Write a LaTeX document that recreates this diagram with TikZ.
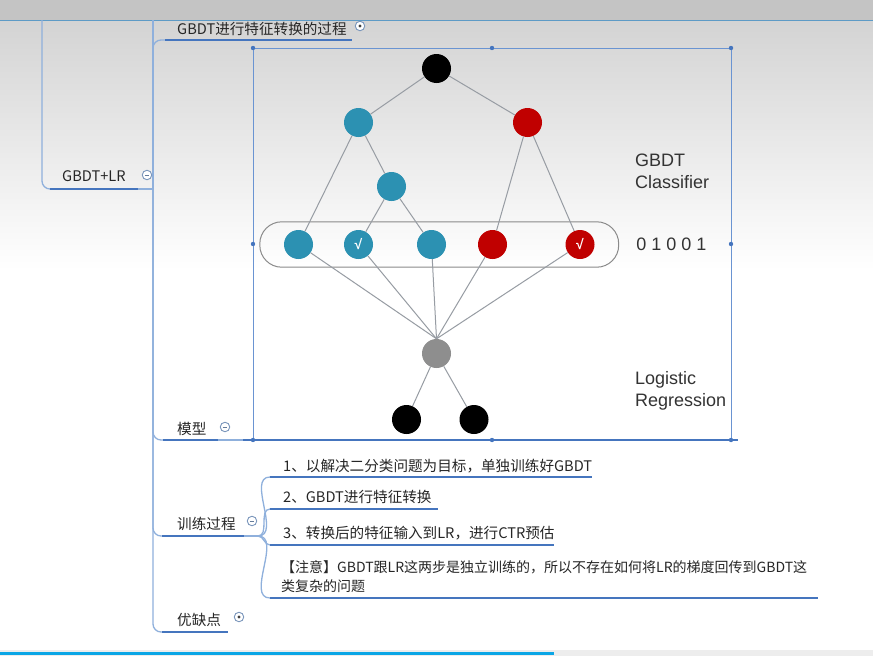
\documentclass[tikz,border=0pt]{standalone}
\usepackage{xcolor}
\usepackage{fontspec}
\setmainfont{Liberation Sans}
\newfontfamily\cjk{Noto Sans CJK SC}
\usepackage{tikz}
\usetikzlibrary{positioning,fit}
\definecolor{mmblue}{HTML}{4575BE}
\definecolor{mmlink}{HTML}{8FB0DC}
\definecolor{boxblue}{HTML}{6A94D2}
\definecolor{leafteal}{HTML}{2C91B2}
\definecolor{leafred}{HTML}{C00000}
\definecolor{lrgray}{HTML}{8E8E8E}
\definecolor{edgegray}{HTML}{979CA3}
\definecolor{capgray}{HTML}{8A8A8A}
\definecolor{topband}{HTML}{C4C4C4}
\definecolor{bandline}{HTML}{5E9BC6}
\definecolor{cyanbar}{HTML}{0BA6E6}
\tikzset{
  mmtext/.style={font=\cjk\fontsize{14.6}{19.5}\selectfont, text=black!85, inner sep=0pt, anchor=west, align=left},
  mmline/.style={draw=mmlink, line width=1.3pt},
  mmunder/.style={draw=mmblue, line width=2.8pt},
  mmfold/.style={circle, draw=mmlink!85!black, line width=0.9pt, fill=white, minimum size=9.5pt, inner sep=0pt},
  foldopen/.style={mmfold, path picture={\draw[mmlink!70!black, line width=0.8pt] ([xshift=-2.3pt]path picture bounding box.center) -- ([xshift=2.3pt]path picture bounding box.center);}},
  folddot/.style={mmfold, path picture={\fill[black!75] (path picture bounding box.center) circle (1.6pt);}},
  treenode/.style={circle, minimum size=29pt, inner sep=0pt, text=white, font=\bfseries\fontsize{14}{14}\selectfont},
  treeedge/.style={draw=edgegray, line width=1pt},
  sidelabel/.style={font=\fontsize{18}{21.7}\selectfont, text=black!80, align=left, anchor=west, inner sep=0pt}
}

\begin{document}
\begin{tikzpicture}[x=1pt, y=-1pt]
  \useasboundingbox (0,0) rectangle (873,656);
  \fill[topband] (0,0) rectangle (873,20);
  \shade[top color=black!17, bottom color=white] (0,21) rectangle (873,270);
  \fill[white] (0,270) rectangle (873,650);
  \fill[black!7] (0,650) rectangle (873,656);
  \draw[cyanbar, line width=3pt] (0,653.5) -- (554,653.5);
  \draw[bandline, line width=1.3pt] (0,20.5) -- (873,20.5);

  \coordinate (lTop) at (42,20);
  \coordinate (uLRa) at (50,189);
  \coordinate (uLRm) at (138,189);
  \coordinate (uLRb) at (153,189);
  \coordinate (sTop) at (153,20);
  \coordinate (uTa) at (165,40);
  \coordinate (uTb) at (352,40);
  \coordinate (uMa) at (163,440);
  \coordinate (uMm) at (218,440);
  \coordinate (uMb) at (243,440);
  \coordinate (uXa) at (162,536);
  \coordinate (uXb) at (244,536);
  \coordinate (fk) at (258,536);
  \coordinate (uYa) at (162,632);
  \coordinate (uYb) at (228,632);
  \coordinate (c1a) at (270,477);
  \coordinate (c1b) at (592,477);
  \coordinate (c2a) at (270,509);
  \coordinate (c2b) at (438,509);
  \coordinate (c3a) at (270,545);
  \coordinate (c3b) at (554,545);
  \coordinate (c4a) at (270,598);
  \coordinate (c4b) at (818,598);

  \draw[mmline, rounded corners=8pt] (lTop) |- (uLRa);
  \draw[mmline] (uLRm) -- (uLRb) -- (sTop);
  \foreach \u in {uTa,uMa,uXa,uYa}
    \draw[mmline, rounded corners=8pt] (uLRb) |- (\u);
  \draw[mmline] (uMm) -- (uMb);
  \draw[mmline] (uXb) -- (fk);
  \foreach \c in {c1a,c2a,c3a,c4a}
    \draw[mmline] (fk) to[out=0,in=180] (\c);

  \draw[mmunder] (uLRa) -- (uLRm);
  \draw[mmunder] (uTa) -- (uTb);
  \draw[mmunder] (uMa) -- (uMm);
  \draw[mmunder] (uXa) -- (uXb);
  \draw[mmunder] (uYa) -- (uYb);
  \draw[mmunder] (c1a) -- (c1b);
  \draw[mmunder] (c2a) -- (c2b);
  \draw[mmunder] (c3a) -- (c3b);
  \draw[mmunder] (c4a) -- (c4b);

  \node[mmtext] (tLR) at (62,176) {GBDT+LR};
  \node[mmtext] (tTop) at (177,29) {GBDT进行特征转换的过程};
  \node[mmtext] (tModel) at (177,429) {模型};
  \node[mmtext] (tTrain) at (177,524) {训练过程};
  \node[mmtext] (tPros) at (177,620) {优缺点};
  \node[mmtext] (t1) at (283,466) {1、以解决二分类问题为目标，单独训练好GBDT};
  \node[mmtext] (t2) at (283,497) {2、GBDT进行特征转换};
  \node[mmtext] (t3) at (283,533) {3、转换后的特征输入到LR，进行CTR预估};
  \node[mmtext, font=\cjk\fontsize{14}{19.5}\selectfont] (tNote) at (281,576.5) {【注意】GBDT跟LR这两步是独立训练的，所以不存在如何将LR的梯度回传到GBDT这\\类复杂的问题};

  \node[foldopen] (fLR) at (147,175) {};
  \node[folddot] (fTop) at (360,26) {};
  \node[foldopen] (fModel) at (225,427) {};
  \node[foldopen] (fTrain) at (252,521) {};
  \node[folddot] (fPros) at (239,617) {};

  \draw[boxblue, line width=0.9pt] (253,48) rectangle (731,440);
  \draw[mmunder] (uMb) -- (738,440);
  \foreach \x/\y in {253/48,492/48,731/48,253/244,731/244,253/440,492/440,731/440}
    \fill[mmblue] (\x,\y) circle (2.2pt);

  \node[treenode, fill=black] (root) at (436.5,68.5) {};
  \node[treenode, fill=leafteal] (b1) at (358.5,122.5) {};
  \node[treenode, fill=leafred] (r1) at (527.5,122.5) {};
  \node[treenode, fill=leafteal] (b2) at (391.5,186.5) {};
  \node[treenode, fill=leafteal] (l1) at (298.5,244.5) {};
  \node[treenode, fill=leafteal] (l2) at (358.5,244.5) {√};
  \node[treenode, fill=leafteal] (l3) at (431.5,244.5) {};
  \node[treenode, fill=leafred] (l4) at (492.5,244.5) {};
  \node[treenode, fill=leafred] (l5) at (580,244.5) {√};
  \node[treenode, fill=lrgray] (lr) at (436.5,353.5) {};
  \node[treenode, fill=black] (o1) at (406.5,419.5) {};
  \node[treenode, fill=black] (o2) at (474,419.5) {};
  \node[draw=capgray, line width=1pt, rounded corners=22pt, fit=(l1)(l5), inner xsep=24pt, inner ysep=8pt] (feat) {};

  \draw[treeedge] (root) -- (b1);
  \draw[treeedge] (root) -- (r1);
  \draw[treeedge] (b1) -- (l1);
  \draw[treeedge] (b1) -- (b2);
  \draw[treeedge] (b2) -- (l2);
  \draw[treeedge] (b2) -- (l3);
  \draw[treeedge] (r1) -- (l4);
  \draw[treeedge] (r1) -- (l5);
  \foreach \l in {l1,l2,l3,l4,l5}
    \draw[treeedge] (\l) -- (lr.north);
  \draw[treeedge] (lr) -- (o1);
  \draw[treeedge] (lr) -- (o2);

  \node[sidelabel] (clf) at (635,171) {GBDT\\Classifier};
  \node[sidelabel, right=17pt of feat] (bits) {0 1 0 0 1};
  \node[sidelabel] (lrlab) at (635,391) {Logistic\\Regression};
\end{tikzpicture}
\end{document}
